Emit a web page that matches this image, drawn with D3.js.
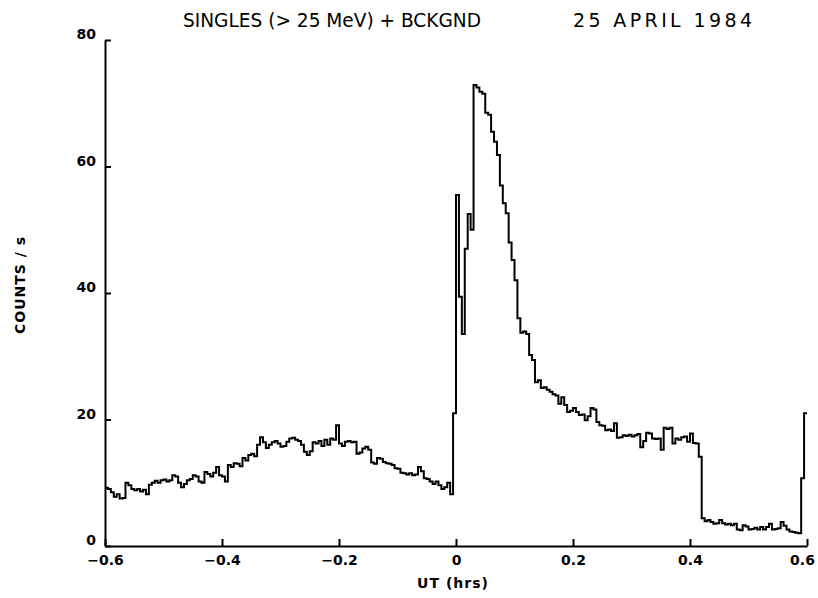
<!DOCTYPE html>
<html lang="en">
<head>
<meta charset="utf-8">
<title>Singles + Bckgnd</title>
<script src="https://d3js.org/d3.v7.min.js"></script>
<style>
  body { margin: 0; background: #fff; }
  .title { font-family: "DejaVu Sans", sans-serif; font-size: 19px; fill: #000; }
  .tick text { font-family: "DejaVu Sans", sans-serif; font-weight: bold; font-size: 14px; fill: #000; }
  .axis-label { font-family: "DejaVu Sans", sans-serif; font-weight: bold; font-size: 14px; fill: #000; letter-spacing: 1px; }
</style>
</head>
<body>
<svg width="818" height="598"></svg>
<script>
// bin start time (hrs) and width
const binStart = -0.6;
const binWidth = 0.005;

// counts / s, one value per 0.005 hr bin
const counts1 = [ // -0.6 .. -0.4
  9.2, 9.0, 8.5, 7.8, 8.2, 7.5, 7.6, 10.0, 9.6, 9.0,
  8.8, 9.0, 8.6, 8.9, 8.2, 9.7, 10.0, 10.3, 10.0, 10.4,
  10.5, 10.2, 10.4, 11.2, 11.0, 10.0, 9.3, 9.8, 10.4, 10.6,
  11.2, 11.0, 10.2, 10.0, 11.7, 11.4, 11.0, 11.6, 12.5, 11.2
];
const counts2 = [ // -0.4 .. -0.2
  11.0, 10.2, 12.8, 12.5, 13.1, 13.0, 12.6, 13.9, 13.5, 14.4,
  14.6, 14.2, 16.0, 17.2, 16.4, 15.5, 16.0, 16.4, 16.6, 16.2,
  15.7, 15.8, 16.5, 17.0, 17.1, 16.8, 16.6, 16.0, 14.9, 14.4,
  15.0, 16.4, 16.2, 16.6, 15.8, 16.8, 16.0, 17.0, 16.8, 19.1
];
const counts3 = [ // -0.2 .. 0
  16.2, 15.8, 16.5, 16.6, 16.4, 16.5, 14.6, 14.8, 15.4, 15.7,
  15.2, 13.2, 13.0, 13.9, 13.8, 13.3, 13.1, 13.0, 12.8, 12.3,
  12.2, 11.6, 11.5, 11.3, 11.5, 11.2, 11.3, 12.5, 11.8, 10.7,
  10.6, 10.2, 9.8, 10.2, 9.6, 9.0, 9.3, 10.0, 8.2, 21.0
];
const counts4 = [ // 0 .. 0.2
  55.5, 39.4, 33.5, 47.0, 52.5, 50.0, 72.9, 72.5, 71.8, 71.5,
  68.5, 68.2, 65.5, 63.9, 61.8, 57.0, 54.2, 52.6, 48.0, 45.2,
  42.0, 36.0, 33.7, 33.9, 33.5, 30.2, 29.4, 25.9, 26.2, 25.0,
  25.1, 24.7, 24.4, 24.0, 23.8, 22.5, 23.5, 22.3, 21.2, 21.4
];
const counts5 = [ // 0.2 .. 0.4
  21.8, 21.2, 20.7, 20.8, 19.9, 20.5, 21.8, 21.6, 19.6, 19.1,
  19.0, 18.3, 18.4, 18.2, 19.4, 17.1, 17.2, 17.5, 17.4, 17.6,
  17.3, 17.5, 17.7, 15.6, 16.6, 17.9, 17.8, 17.0, 16.9, 17.0,
  15.2, 18.7, 18.5, 18.7, 16.2, 17.0, 16.8, 17.2, 17.3, 16.5
];
const counts6 = [ // 0.4 .. 0.6
  17.8, 16.3, 16.2, 14.1, 4.4, 3.9, 4.1, 3.8, 3.5, 3.6,
  4.1, 3.6, 3.4, 3.5, 3.3, 3.5, 2.6, 2.5, 3.3, 3.1,
  2.6, 2.7, 2.9, 2.6, 3.0, 2.6, 3.0, 3.5, 2.6, 2.7,
  2.8, 3.8, 3.2, 2.6, 2.3, 2.2, 2.1, 2.0, 10.7, 21.0
];

const xTicks = [-0.6, -0.4, -0.2, 0, 0.2, 0.4, 0.6];
const yTicks = [0, 20, 40, 60, 80];
const titleLeft = "SINGLES (> 25 MeV) + BCKGND";
const titleRight = "25 APRIL 1984";
const xTitle = "UT (hrs)";
const yTitle = "COUNTS / s";

const counts = [].concat(counts1, counts2, counts3, counts4, counts5, counts6);
const data = counts.map((v, i) => ({t: binStart + i * binWidth, v: v}));
// closing point so the last bin gets its width
data.push({t: binStart + counts.length * binWidth, v: counts[counts.length - 1]});

const svg = d3.select("svg");

const x = d3.scaleLinear().domain([-0.6, 0.6]).range([105, 807]);
const y = d3.scaleLinear().domain([0, 80]).range([546, 40]);

// axes
const xAxis = d3.axisBottom(x)
    .tickValues(xTicks)
    .tickSizeInner(-7)
    .tickSizeOuter(0)
    .tickPadding(9)
    .tickFormat(d3.format(""));

const yAxis = d3.axisLeft(y)
    .tickValues(yTicks)
    .tickSizeInner(-6)
    .tickSizeOuter(0)
    .tickPadding(9);

const gx = svg.append("g")
    .attr("transform", "translate(0," + y(0) + ")")
    .call(xAxis);
gx.select(".domain").attr("stroke-width", 2);
gx.selectAll(".tick line").attr("stroke-width", 2);
// last label sits a bit left so it stays on the page
gx.selectAll(".tick text").filter(d => d === 0.6).attr("dx", -5);

const gy = svg.append("g")
    .attr("transform", "translate(" + x(-0.6) + ",0)")
    .call(yAxis);
gy.select(".domain").attr("stroke-width", 2);
gy.selectAll(".tick line").attr("stroke-width", 2);
gy.selectAll(".tick text").attr("dy", "-0.1em");

// the histogram
const line = d3.line()
    .x(d => x(d.t))
    .y(d => y(d.v))
    .curve(d3.curveStepAfter);

svg.append("path")
    .datum(data)
    .attr("fill", "none")
    .attr("stroke", "#000")
    .attr("stroke-width", 2)
    .attr("d", line);

// titles
svg.append("text")
    .attr("class", "title")
    .attr("x", 183).attr("y", 27)
    .attr("textLength", 298)
    .attr("lengthAdjust", "spacingAndGlyphs")
    .text(titleLeft);

svg.append("text")
    .attr("class", "title")
    .attr("x", 573).attr("y", 27)
    .attr("textLength", 179)
    .attr("lengthAdjust", "spacing")
    .text(titleRight);

svg.append("text")
    .attr("class", "axis-label")
    .attr("x", 453).attr("y", 588)
    .attr("text-anchor", "middle")
    .text(xTitle);

svg.append("text")
    .attr("class", "axis-label")
    .attr("transform", "translate(25,285) rotate(-90)")
    .attr("text-anchor", "middle")
    .text(yTitle);
</script>
</body>
</html>
